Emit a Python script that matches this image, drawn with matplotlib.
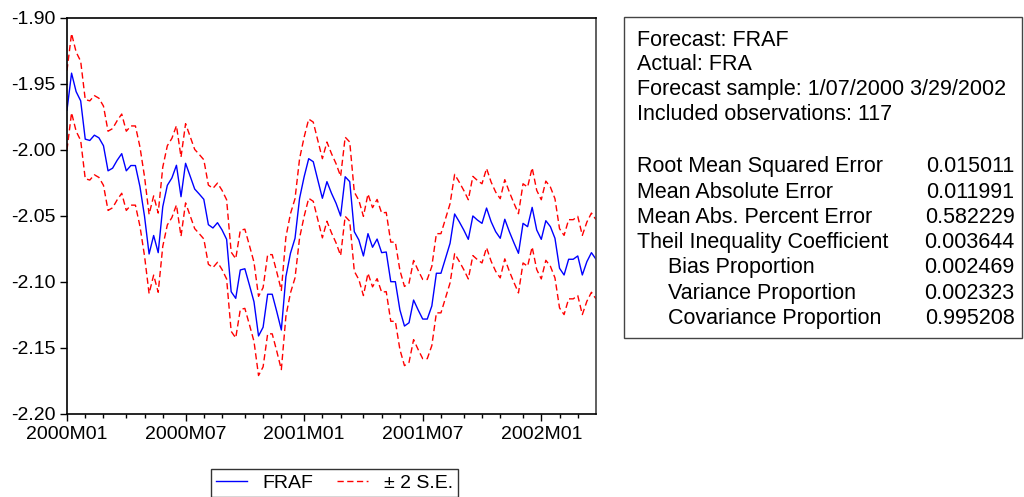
import numpy as np
import pandas as pd
import matplotlib
matplotlib.use("Agg")
import matplotlib.pyplot as plt
from matplotlib.patches import Rectangle

plt.rcParams['font.family'] = ['Liberation Sans', 'DejaVu Sans']

# weekly forecast FRAF, 1/07/2000 - 3/29/2002 (117 obs)
dates = pd.date_range('2000-01-07', periods=117, freq='7D')
fraf = [
    -1.970, -1.942, -1.956, -1.963, -1.992, -1.993, -1.989, -1.991, -1.997, -2.016,
    -2.014, -2.008, -2.003, -2.016, -2.012, -2.012, -2.028, -2.0505, -2.079, -2.065,
    -2.078, -2.0432, -2.027, -2.0214, -2.0118, -2.0356, -2.0103, -2.020, -2.0298, -2.0336,
    -2.0376, -2.0568, -2.0593, -2.0553, -2.0608, -2.0679, -2.1076, -2.1126, -2.0911, -2.0902,
    -2.1025, -2.1152, -2.1411, -2.1345, -2.1095, -2.1095, -2.1227, -2.1366, -2.0962, -2.0785,
    -2.0671, -2.0368, -2.0205, -2.0068, -2.0091, -2.023, -2.0368, -2.0242, -2.033, -2.0406,
    -2.0502, -2.0205, -2.0242, -2.0621, -2.0684, -2.0805, -2.0636, -2.0739, -2.0677, -2.078,
    -2.0775, -2.100, -2.100, -2.1214, -2.1336, -2.1311, -2.1139, -2.1214, -2.1283, -2.1283,
    -2.1184, -2.0936, -2.0936, -2.0823, -2.0709, -2.0487, -2.0545, -2.0608, -2.0679, -2.0502,
    -2.0533, -2.0558, -2.0442, -2.0545, -2.0621, -2.0671, -2.0527, -2.0621, -2.0705, -2.0785,
    -2.0558, -2.0583, -2.0437, -2.0608, -2.0679, -2.0538, -2.0583, -2.0671, -2.0898, -2.0949,
    -2.0830, -2.0830, -2.0805, -2.0949, -2.0848, -2.078, -2.083,
]
se = 0.015  # forecast standard error

stat_names = ["Root Mean Squared Error", "Mean Absolute Error", "Mean Abs. Percent Error",
              "Theil Inequality Coefficient", "Bias Proportion", "Variance Proportion",
              "Covariance Proportion"]
stat_vals = ["0.015011", "0.011991", "0.582229", "0.003644", "0.002469", "0.002323", "0.995208"]
header = ["Forecast: FRAF", "Actual: FRA", "Forecast sample: 1/07/2000 3/29/2002",
          "Included observations: 117"]

W, H = 1024, 497
fig = plt.figure(figsize=(W / 100, H / 100), dpi=100)
ax = fig.add_axes([67 / W, 1 - 413.7 / H, (596 - 67) / W, (413.7 - 17.7) / H])

x = np.arange(len(fraf))
y = np.array(fraf)
ax.plot(x, y, color='#0000ff', lw=1, label='FRAF')
ax.plot(x, y + 2 * se, color='#ff0000', lw=1, ls=(0, (4.5, 2.5)), label='± 2 S.E.')
ax.plot(x, y - 2 * se, color='#ff0000', lw=1, ls=(0, (4.5, 2.5)))

ax.set_xlim(0, len(fraf) - 1)
ax.set_ylim(-2.20, -1.90)
ax.set_yticks(np.arange(-2.20, -1.899, 0.05))
ax.set_yticklabels(["%.2f" % v for v in np.arange(-2.20, -1.899, 0.05)])

# ticks at first week of each month
months = dates.to_period('M')
first = [i for i in range(len(dates)) if i == 0 or months[i] != months[i - 1]]
major = [i for i in first if dates[i].month in (1, 7)]
minor = [i for i in first if i not in major]
ax.set_xticks(major)
ax.set_xticklabels([f"{dates[i].year}M{dates[i].month:02d}" for i in major])
ax.set_xticks(minor, minor=True)

ax.tick_params(axis='both', which='major', direction='out', length=5, width=1,
               labelsize=14, colors='black')
ax.tick_params(axis='x', which='major', pad=4)
ax.tick_params(axis='y', which='major', pad=3)
ax.tick_params(axis='x', which='minor', direction='out', length=3, width=1)
ax.tick_params(top=False, right=False)
for s in ax.spines.values():
    s.set_linewidth(1.2)
ax.spines['right'].set_color('#444444')

leg = fig.legend(loc='lower center', bbox_to_anchor=(334.5 / W, 0.5 / H), ncol=2,
                 fontsize=14, frameon=True, fancybox=False, edgecolor='black',
                 handlelength=1.6, columnspacing=1.2, borderpad=0.25, borderaxespad=0)
leg.get_frame().set_linewidth(1)

# statistics box
fig.patches.append(Rectangle((624 / W, 1 - 338 / H), 398 / W, 321 / H,
                             transform=fig.transFigure, fill=False,
                             edgecolor='#444444', lw=1))
ys = [40, 65, 90, 115]
for t, yy in zip(header, ys):
    fig.text(637 / W, 1 - yy / H, t, fontsize=15.5, va='center', ha='left')
for k, (n, v) in enumerate(zip(stat_names, stat_vals)):
    yy = 166.7 + 25.3 * k
    xl = 637 if k < 4 else 668
    fig.text(xl / W, 1 - yy / H, n, fontsize=15.5, va='center', ha='left')
    fig.text(1014.5 / W, 1 - yy / H, v, fontsize=15.5, va='center', ha='right')

fig.savefig('out.png', dpi=100)
